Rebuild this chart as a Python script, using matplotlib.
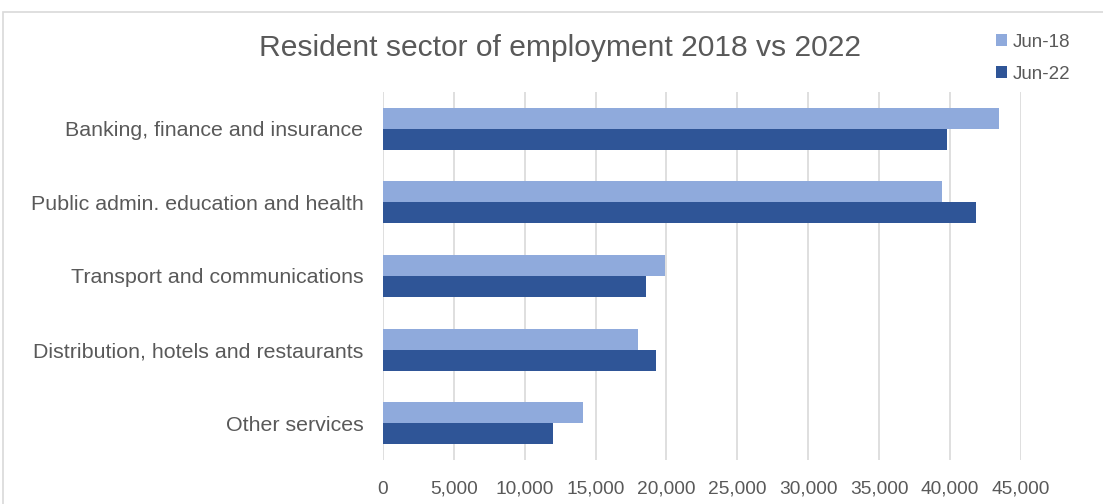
import numpy as np
import matplotlib.pyplot as plt
from matplotlib.patches import Rectangle

plt.rcParams['font.family'] = ['Liberation Sans', 'DejaVu Sans']

categories = ['Banking, finance and insurance',
              'Public admin. education and health',
              'Transport and communications',
              'Distribution, hotels and restaurants',
              'Other services']
jun18 = [43460, 39460, 19900, 18010, 14140]
jun22 = [39750, 41850, 18580, 19240, 12030]
x_ticks = [0, 5000, 10000, 15000, 20000, 25000, 30000, 35000, 40000, 45000]

grey = '#595959'
light = '#8FAADC'
dark = '#2F5597'

fig = plt.figure(figsize=(11.03, 5.04), dpi=100)
ax = fig.add_axes([0.347, 0.0873, 0.5787, 0.7302])

# chart frame
fig.patches.append(Rectangle((0.003, -0.1), 1.2, 1.076, transform=fig.transFigure,
                             fill=False, edgecolor='#D9D9D9', linewidth=1.2))

y = np.arange(len(categories))
h = 0.285
ax.barh(y - h / 2, jun18, height=h, color=light, label='Jun-18', zorder=3)
ax.barh(y + h / 2, jun22, height=h, color=dark, label='Jun-22', zorder=3)

ax.set_ylim(len(categories) - 0.5, -0.5)
ax.set_xlim(0, 45000)
ax.set_yticks(y)
ax.set_yticklabels(categories, fontsize=15.4, color=grey)
ax.set_xticks(x_ticks)
ax.set_xticklabels(['{:,}'.format(v) for v in x_ticks], fontsize=13.8, color=grey)
ax.tick_params(length=0)
ax.tick_params(axis='y', pad=14)
ax.tick_params(axis='x', pad=15)
ax.grid(axis='x', color='#D9D9D9', linewidth=1.2, zorder=0)
for s in ax.spines.values():
    s.set_visible(False)

fig.text(0.508, 0.905, 'Resident sector of employment 2018 vs 2022',
         ha='center', va='center', fontsize=21.6, color=grey)

leg = fig.legend(loc='upper left', bbox_to_anchor=(0.888, 0.967), frameon=False,
                 fontsize=13.5, handlelength=0.55, handleheight=0.55,
                 handletextpad=0.3, labelspacing=0.8)
for t in leg.get_texts():
    t.set_color(grey)

fig.savefig('out.png', dpi=100)
